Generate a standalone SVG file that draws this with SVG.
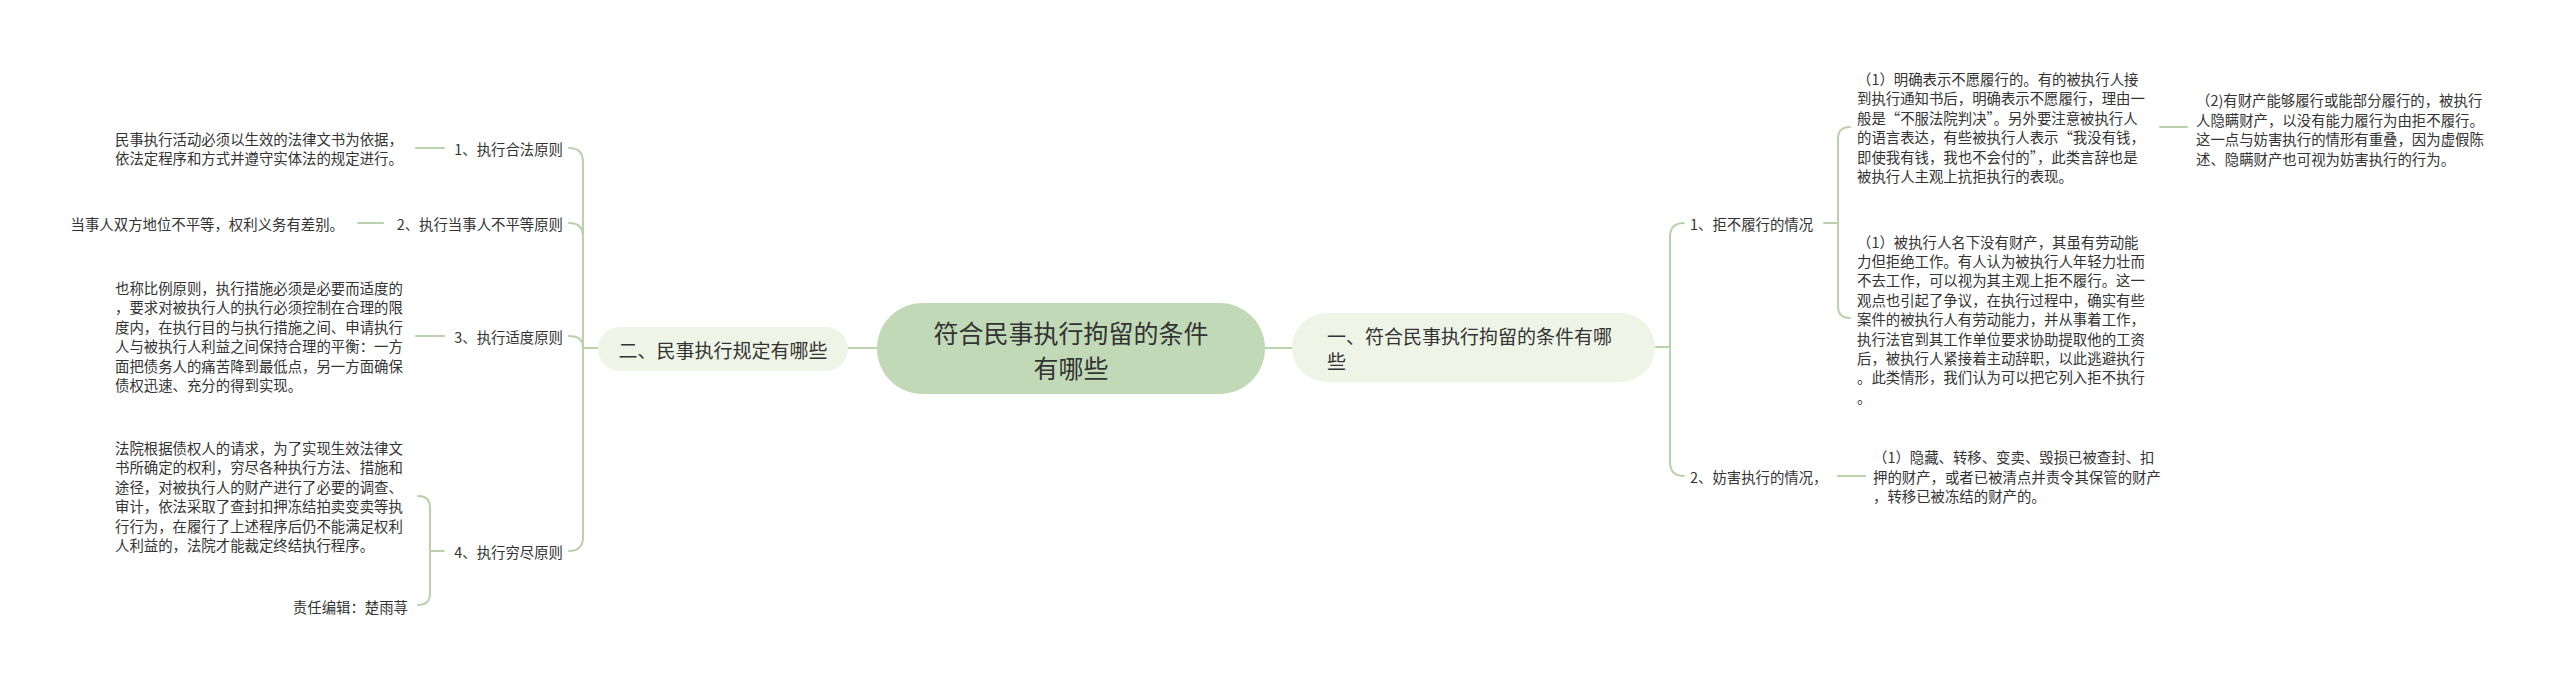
<svg xmlns="http://www.w3.org/2000/svg" width="2560" height="686" viewBox="0 0 2560 686">
<style>
text{font-family:"Noto Sans CJK SC","Noto Sans",sans-serif;fill:#333;dominant-baseline:central}
.t{font-size:14.4px}
.b{font-size:19px}
.c{font-size:25px}
.ln{fill:none;stroke:#b9d2ad;stroke-width:2;stroke-linecap:round}
</style>
<rect width="2560" height="686" fill="#ffffff"/>
<g id="connectors">
<path class="ln" d="M878,348 H848"/>
<path class="ln" d="M1265,348 H1292"/>
<path class="ln" d="M598,348 H583"/>
<path class="ln" d="M583,348 V162 Q583,148 569,148"/>
<path class="ln" d="M583,348 V237 Q583,223 569,223"/>
<path class="ln" d="M583,348 Q583,336 569,336"/>
<path class="ln" d="M583,348 V537 Q583,551 569,551"/>
<path class="ln" d="M416,148 H444"/>
<path class="ln" d="M358,223 H383"/>
<path class="ln" d="M416,336 H444"/>
<path class="ln" d="M444,551 H430 M430,551 V508 Q430,496 418,496 M430,551 V593 Q430,605 418,605"/>
<path class="ln" d="M1655,347 H1670"/>
<path class="ln" d="M1670,347 V237 Q1670,223 1684,223"/>
<path class="ln" d="M1670,347 V462 Q1670,476 1684,476"/>
<path class="ln" d="M1824,223 H1838 M1838,223 V139 Q1838,127 1850,127 M1838,223 V306 Q1838,318 1850,318"/>
<path class="ln" d="M2160,127 H2187"/>
<path class="ln" d="M1838,476 H1865"/>
</g>
<g id="root">
<rect x="877" y="303" width="388" height="91" rx="45.5" fill="#c1d9b7"/>
<text class="c" x="1071" y="332" text-anchor="middle">符合民事执行拘留的条件</text>
<text class="c" x="1071" y="367" text-anchor="middle">有哪些</text>
</g>
<g id="branch-left">
<rect x="598" y="327" width="250" height="44" rx="22" fill="#eef4e6"/>
<text class="b" x="723" y="349" text-anchor="middle">二、民事执行规定有哪些</text>
</g>
<g id="branch-right">
<rect x="1292" y="313" width="363" height="69" rx="34.5" fill="#eef4e6"/>
<text class="b" x="1327" y="335">一、符合民事执行拘留的条件有哪</text>
<text class="b" x="1327" y="360">些</text>
</g>
<g id="l1">
<text class="t" x="563" y="148" text-anchor="end">1、执行合法原则</text>
</g>
<g id="l1-text">
<text class="t" x="115" y="138.5">民事执行活动必须以生效的法律文书为依据，</text>
<text class="t" x="115" y="157.9">依法定程序和方式并遵守实体法的规定进行。</text>
</g>
<g id="l2">
<text class="t" x="563" y="223" text-anchor="end">2、执行当事人不平等原则</text>
</g>
<g id="l2-text">
<text class="t" x="344" y="223" text-anchor="end">当事人双方地位不平等，权利义务有差别。</text>
</g>
<g id="l3">
<text class="t" x="563" y="336" text-anchor="end">3、执行适度原则</text>
</g>
<g id="l3-text">
<text class="t" x="115" y="287.5">也称比例原则，执行措施必须是必要而适度的</text>
<text class="t" x="115" y="306.9">，要求对被执行人的执行必须控制在合理的限</text>
<text class="t" x="115" y="326.3">度内，在执行目的与执行措施之间、申请执行</text>
<text class="t" x="115" y="345.7">人与被执行人利益之间保持合理的平衡：一方</text>
<text class="t" x="115" y="365.1">面把债务人的痛苦降到最低点，另一方面确保</text>
<text class="t" x="115" y="384.5">债权迅速、充分的得到实现。</text>
</g>
<g id="l4">
<text class="t" x="563" y="551" text-anchor="end">4、执行穷尽原则</text>
</g>
<g id="l4-text">
<text class="t" x="115" y="447.5">法院根据债权人的请求，为了实现生效法律文</text>
<text class="t" x="115" y="466.9">书所确定的权利，穷尽各种执行方法、措施和</text>
<text class="t" x="115" y="486.3">途径，对被执行人的财产进行了必要的调查、</text>
<text class="t" x="115" y="505.7">审计，依法采取了查封扣押冻结拍卖变卖等执</text>
<text class="t" x="115" y="525.1">行行为，在履行了上述程序后仍不能满足权利</text>
<text class="t" x="115" y="544.5">人利益的，法院才能裁定终结执行程序。</text>
</g>
<g id="l4-editor">
<text class="t" x="408" y="606" text-anchor="end">责任编辑：楚雨荨</text>
</g>
<g id="r1">
<text class="t" x="1690" y="223">1、拒不履行的情况</text>
</g>
<g id="r1a">
<text class="t" x="1857" y="78.5">（1）明确表示不愿履行的。有的被执行人接</text>
<text class="t" x="1857" y="97.9">到执行通知书后，明确表示不愿履行，理由一</text>
<text class="t" x="1857" y="117.3">般是“不服法院判决”。另外要注意被执行人</text>
<text class="t" x="1857" y="136.7">的语言表达，有些被执行人表示“我没有钱，</text>
<text class="t" x="1857" y="156.1">即使我有钱，我也不会付的”，此类言辞也是</text>
<text class="t" x="1857" y="175.5">被执行人主观上抗拒执行的表现。</text>
</g>
<g id="r1a-child">
<text class="t" x="2196" y="99.9">（2)有财产能够履行或能部分履行的，被执行</text>
<text class="t" x="2196" y="119.3">人隐瞒财产，以没有能力履行为由拒不履行。</text>
<text class="t" x="2196" y="138.7">这一点与妨害执行的情形有重叠，因为虚假陈</text>
<text class="t" x="2196" y="158.1">述、隐瞒财产也可视为妨害执行的行为。</text>
</g>
<g id="r1b">
<text class="t" x="1857" y="241">（1）被执行人名下没有财产，其虽有劳动能</text>
<text class="t" x="1857" y="260.4">力但拒绝工作。有人认为被执行人年轻力壮而</text>
<text class="t" x="1857" y="279.8">不去工作，可以视为其主观上拒不履行。这一</text>
<text class="t" x="1857" y="299.2">观点也引起了争议，在执行过程中，确实有些</text>
<text class="t" x="1857" y="318.6">案件的被执行人有劳动能力，并从事着工作，</text>
<text class="t" x="1857" y="338">执行法官到其工作单位要求协助提取他的工资</text>
<text class="t" x="1857" y="357.4">后，被执行人紧接着主动辞职，以此逃避执行</text>
<text class="t" x="1857" y="376.8">。此类情形，我们认为可以把它列入拒不执行</text>
<text class="t" x="1857" y="396.2">。</text>
</g>
<g id="r2">
<text class="t" x="1690" y="476">2、妨害执行的情况，</text>
</g>
<g id="r2-text">
<text class="t" x="1873" y="456.6">（1）隐藏、转移、变卖、毁损已被查封、扣</text>
<text class="t" x="1873" y="476">押的财产，或者已被清点并责令其保管的财产</text>
<text class="t" x="1873" y="495.4">，转移已被冻结的财产的。</text>
</g>
</svg>
